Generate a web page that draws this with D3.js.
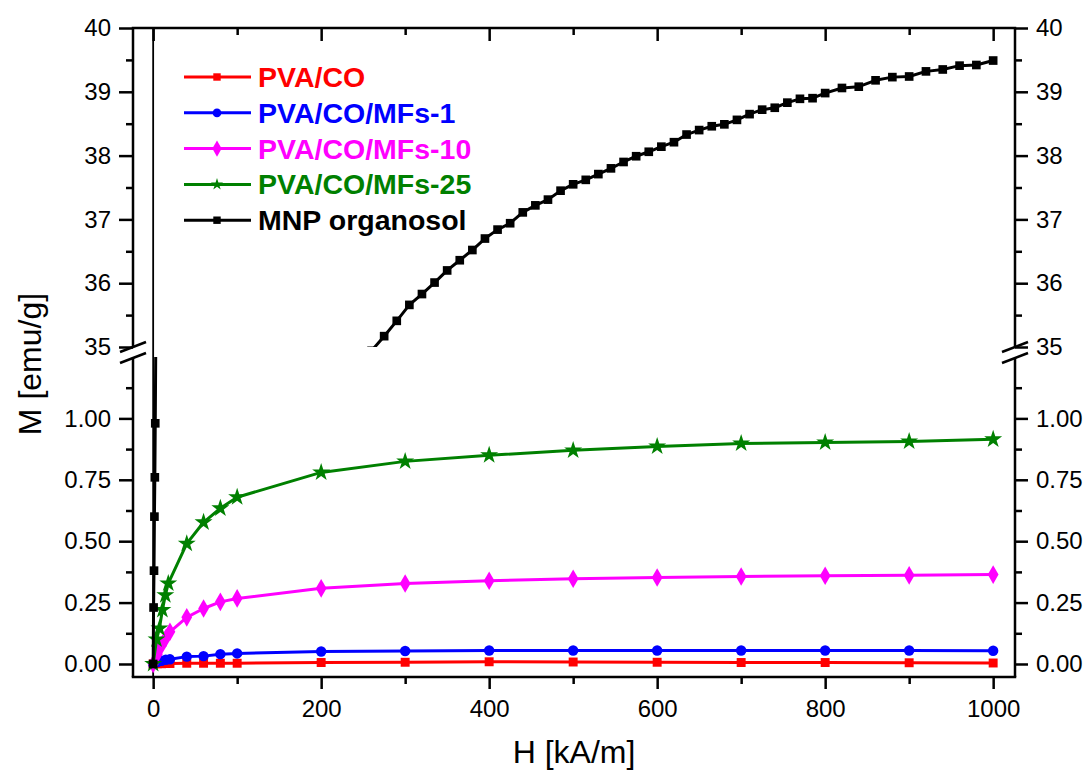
<!DOCTYPE html>
<html>
<head>
<meta charset="utf-8">
<script src="https://cdn.jsdelivr.net/npm/d3@7"></script>
<style>
  body { margin: 0; background: #fff; }
  text { font-family: Arial, "Liberation Sans", sans-serif; }
</style>
</head>
<body>
<div id="chart"></div>
<script>
// ---- data ----
var fieldH = [0, 5, 10, 15, 20, 40, 60, 80, 100, 200, 300, 400, 500, 600, 700, 800, 900, 1000];
var pvaCO = [0, 0.001, 0.001, 0.002, 0.002, 0.003, 0.003, 0.003, 0.003, 0.006, 0.007, 0.009, 0.008, 0.007, 0.006, 0.006, 0.005, 0.004];
var pvaMFs1 = [0, 0.008, 0.013, 0.017, 0.019, 0.030, 0.032, 0.040, 0.043, 0.051, 0.053, 0.055, 0.055, 0.055, 0.055, 0.055, 0.055, 0.054];
var pvaMFs10 = [0, 0.040, 0.075, 0.105, 0.131, 0.190, 0.226, 0.253, 0.267, 0.308, 0.328, 0.339, 0.347, 0.352, 0.356, 0.359, 0.361, 0.364];

var fieldH25 = [0, 4, 7.5, 11, 14.5, 18, 40, 60, 80, 100, 200, 300, 400, 500, 600, 700, 800, 900, 1000];
var pvaMFs25 = [0, 0.10, 0.145, 0.22, 0.28, 0.328, 0.49, 0.577, 0.634, 0.679, 0.78, 0.825, 0.85, 0.87, 0.886, 0.898, 0.902, 0.906, 0.915];

var mnpH = [0, 0.5, 1, 1.5, 2, 2.5, 3.5, 260,
  275, 290, 305, 320, 335, 350, 365, 380, 395, 410, 425, 440, 455, 470, 485, 500, 515, 530,
  545, 560, 575, 590, 605, 620, 635, 650, 665, 680, 695, 710, 725, 740, 755, 770, 785, 800,
  820, 840, 860, 880, 900, 920, 940, 960, 980, 1000];
var mnpM = [0, 0.23, 0.38, 0.60, 0.76, 0.98, 1.5, 34.94,
  35.17, 35.41, 35.66, 35.83, 36.01, 36.20, 36.36, 36.52, 36.70, 36.84, 36.94, 37.11, 37.22, 37.31, 37.45, 37.55,
  37.62, 37.71, 37.80, 37.90, 37.99, 38.06, 38.14, 38.21, 38.33, 38.40, 38.46, 38.49, 38.56, 38.65, 38.72, 38.75,
  38.83, 38.89, 38.90, 38.98,
  39.06, 39.08, 39.18, 39.23, 39.24, 39.32, 39.35, 39.41, 39.42, 39.49];

var seriesNames = ["PVA/CO", "PVA/CO/MFs-1", "PVA/CO/MFs-10", "PVA/CO/MFs-25", "MNP organosol"];
var seriesColors = ["#ff0000", "#0000ff", "#ff00ff", "#008000", "#000000"];

var xTicksMajor = [0, 200, 400, 600, 800, 1000];
var xTicksMinor = [100, 300, 500, 700, 900];
var upTicksMajor = [35, 36, 37, 38, 39, 40];
var upTicksMinor = [35.5, 36.5, 37.5, 38.5, 39.5];
var lowTicksMajor = [0, 0.25, 0.5, 0.75, 1.0];
var lowTicksMinor = [0.125, 0.375, 0.625, 0.875, 1.125];

// ---- layout ----
var svgWidth = 1089;
var svgHeight = 774;
var margin = { top: 28, right: 74, bottom: 97, left: 133 };
var width = svgWidth - margin.left - margin.right;
var height = svgHeight - margin.top - margin.bottom;
var upperBottom = 319;   // y of M = 35
var lowerTop = 329;      // y of the top of the lower panel

var svg = d3.select("#chart")
  .append("svg")
  .attr("width", svgWidth)
  .attr("height", svgHeight);

var chartGroup = svg.append("g")
  .attr("transform", `translate(${margin.left}, ${margin.top})`);

var xScale = d3.scaleLinear().domain([-24, 1026]).range([0, width]);
var yUp = d3.scaleLinear().domain([35, 40]).range([upperBottom, 0]);
var yLow = d3.scaleLinear().domain([-0.053, 1.25]).range([height, lowerTop]);

// clip paths for the two panels
var defs = svg.append("defs");
defs.append("clipPath").attr("id", "clipUp")
  .append("rect").attr("x", 0).attr("y", 0).attr("width", width).attr("height", upperBottom);
defs.append("clipPath").attr("id", "clipLow")
  .append("rect").attr("x", 0).attr("y", lowerTop).attr("width", width).attr("height", height - lowerTop);

// vertical line at H = 0
chartGroup.append("line")
  .attr("x1", xScale(0)).attr("x2", xScale(0))
  .attr("y1", 0).attr("y2", height)
  .attr("stroke", "black")
  .attr("stroke-width", 1.8);

function drawSeries(g, yScale, hs, ms, color, symbol, size) {
  var pts = hs.map(function (h, i) { return [h, ms[i]]; });
  var line = d3.line()
    .x(d => xScale(d[0]))
    .y(d => yScale(d[1]));
  g.append("path")
    .datum(pts)
    .attr("d", line)
    .attr("fill", "none")
    .attr("stroke", color)
    .attr("stroke-width", 3)
    .attr("stroke-linejoin", "round");
  g.selectAll(null)
    .data(pts)
    .enter()
    .append("path")
    .attr("transform", d => `translate(${xScale(d[0])}, ${yScale(d[1])})`)
    .attr("d", d3.symbol().type(symbol).size(size))
    .attr("fill", color);
}

var panels = [
  { clip: "url(#clipUp)", y: yUp },
  { clip: "url(#clipLow)", y: yLow }
];
panels.forEach(function (p) {
  var g = chartGroup.append("g").attr("clip-path", p.clip);
  drawSeries(g, p.y, fieldH, pvaCO, seriesColors[0], d3.symbolSquare, 80);
  drawSeries(g, p.y, fieldH, pvaMFs1, seriesColors[1], d3.symbolCircle, 85);
  drawSeries(g, p.y, fieldH, pvaMFs10, seriesColors[2], d3.symbolDiamond, 100);
  drawSeries(g, p.y, fieldH25, pvaMFs25, seriesColors[3], d3.symbolStar, 100);
  drawSeries(g, p.y, mnpH, mnpM, seriesColors[4], d3.symbolSquare, 75);
});

// ---- axes ----
function styleAxis(sel, fontSize) {
  sel.select(".domain").remove();
  sel.selectAll(".tick line").attr("stroke", "black").attr("stroke-width", 2.5);
  sel.selectAll("text").style("font-size", fontSize + "px").attr("fill", "black");
}

var fmtLow = d3.format(".2f");

// bottom
chartGroup.append("g")
  .attr("transform", `translate(0, ${height})`)
  .call(d3.axisBottom(xScale).tickValues(xTicksMajor).tickSize(12).tickPadding(11).tickFormat(d3.format("d")))
  .call(styleAxis, 24);
chartGroup.append("g")
  .attr("transform", `translate(0, ${height})`)
  .call(d3.axisBottom(xScale).tickValues(xTicksMinor).tickSize(7).tickFormat(""))
  .call(styleAxis, 24);

// top (inward ticks, no labels)
chartGroup.append("g")
  .call(d3.axisBottom(xScale).tickValues(xTicksMajor).tickSize(13).tickFormat(""))
  .call(styleAxis, 24);
chartGroup.append("g")
  .call(d3.axisBottom(xScale).tickValues(xTicksMinor).tickSize(7).tickFormat(""))
  .call(styleAxis, 24);

// left
chartGroup.append("g")
  .call(d3.axisLeft(yUp).tickValues(upTicksMajor).tickSize(14).tickPadding(8).tickFormat(d3.format("d")))
  .call(styleAxis, 24);
chartGroup.append("g")
  .call(d3.axisLeft(yUp).tickValues(upTicksMinor).tickSize(7).tickFormat(""))
  .call(styleAxis, 24);
chartGroup.append("g")
  .call(d3.axisLeft(yLow).tickValues(lowTicksMajor).tickSize(14).tickPadding(8).tickFormat(fmtLow))
  .call(styleAxis, 24);
chartGroup.append("g")
  .call(d3.axisLeft(yLow).tickValues(lowTicksMinor).tickSize(7).tickFormat(""))
  .call(styleAxis, 24);

// right
chartGroup.append("g")
  .attr("transform", `translate(${width}, 0)`)
  .call(d3.axisRight(yUp).tickValues(upTicksMajor).tickSize(13).tickPadding(8).tickFormat(d3.format("d")))
  .call(styleAxis, 24);
chartGroup.append("g")
  .attr("transform", `translate(${width}, 0)`)
  .call(d3.axisRight(yUp).tickValues(upTicksMinor).tickSize(7).tickFormat(""))
  .call(styleAxis, 24);
chartGroup.append("g")
  .attr("transform", `translate(${width}, 0)`)
  .call(d3.axisRight(yLow).tickValues(lowTicksMajor).tickSize(13).tickPadding(8).tickFormat(fmtLow))
  .call(styleAxis, 24);
chartGroup.append("g")
  .attr("transform", `translate(${width}, 0)`)
  .call(d3.axisRight(yLow).tickValues(lowTicksMinor).tickSize(7).tickFormat(""))
  .call(styleAxis, 24);

// frame with break
var brkUp = 319, brkLow = 330;
var frame = chartGroup.append("g")
  .attr("stroke", "black")
  .attr("stroke-width", 2.5)
  .attr("fill", "none");
frame.append("line").attr("x1", -1.25).attr("x2", width + 1.25).attr("y1", 0).attr("y2", 0);
frame.append("line").attr("x1", -1.25).attr("x2", width + 1.25).attr("y1", height).attr("y2", height);
[0, width].forEach(function (xp) {
  frame.append("line").attr("x1", xp).attr("x2", xp).attr("y1", 0).attr("y2", brkUp);
  frame.append("line").attr("x1", xp).attr("x2", xp).attr("y1", brkLow).attr("y2", height);
  [brkUp, brkLow].forEach(function (yb) {
    frame.append("line")
      .attr("x1", xp - 13).attr("y1", yb + 5)
      .attr("x2", xp + 13).attr("y2", yb - 5);
  });
});

// axis titles
svg.append("text")
  .attr("x", margin.left + width / 2)
  .attr("y", 763)
  .attr("text-anchor", "middle")
  .style("font-size", "32px")
  .text("H [kA/m]");

svg.append("text")
  .attr("transform", "translate(41, 364) rotate(-90)")
  .attr("text-anchor", "middle")
  .style("font-size", "32px")
  .text("M [emu/g]");

// legend
var legendSymbols = [d3.symbolSquare, d3.symbolCircle, d3.symbolDiamond, d3.symbolStar, d3.symbolSquare];
var legendSizes = [55, 60, 75, 45, 55];
var legend = svg.append("g").attr("transform", "translate(184, 77)");
seriesNames.forEach(function (name, i) {
  var row = legend.append("g").attr("transform", `translate(0, ${i * 35.8})`);
  row.append("line")
    .attr("x1", 0).attr("x2", 67)
    .attr("y1", 0).attr("y2", 0)
    .attr("stroke", seriesColors[i])
    .attr("stroke-width", 3);
  row.append("path")
    .attr("transform", "translate(33, 0)")
    .attr("d", d3.symbol().type(legendSymbols[i]).size(legendSizes[i]))
    .attr("fill", seriesColors[i]);
  row.append("text")
    .attr("x", 74)
    .attr("y", 10)
    .style("font-size", "28.5px")
    .style("font-weight", "bold")
    .attr("fill", seriesColors[i])
    .text(name);
});
</script>
</body>
</html>
